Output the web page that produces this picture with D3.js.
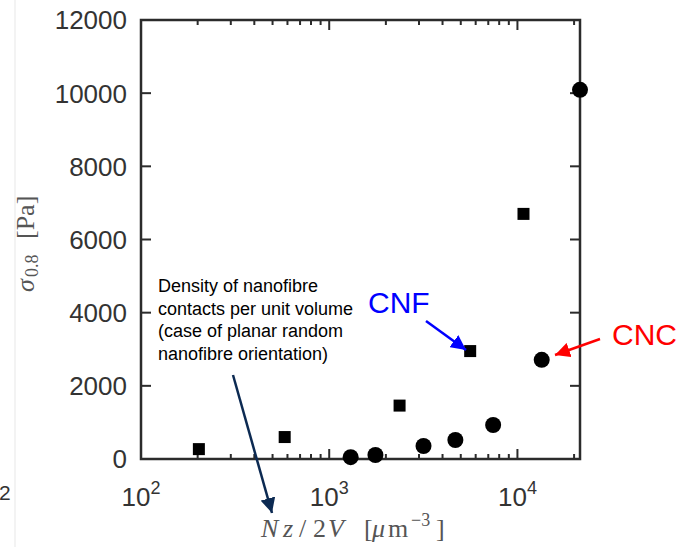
<!DOCTYPE html>
<html>
<head>
<meta charset="utf-8">
<script src="https://cdn.jsdelivr.net/npm/d3@7"></script>
<style>
  html, body { margin: 0; padding: 0; background: #fff; }
  svg { display: block; }
</style>
</head>
<body>
<svg id="chart" width="683" height="547"></svg>
<script>
// Contact density Nz/2V [µm^-3] and yield stress sigma_0.8 [Pa]
const cnfX = [203, 580, 2365, 5610, 10770];
const cnfY = [270, 600, 1460, 2950, 6700];
const cncX = [1300, 1760, 3170, 4680, 7430, 13460, 21500];
const cncY = [50, 110, 355, 520, 930, 2710, 10090];

const yTicks = [0, 2000, 4000, 6000, 8000, 10000, 12000];
const xMajorTicks = [100, 1000, 10000];
const xMajorExp = ["2", "3", "4"];

const annotationLines = [
  "Density of nanofibre",
  "contacts per unit volume",
  "(case of planar random",
  "nanofibre orientation)"
];

(function draw() {
const svg = d3.select("#chart");
const W = 683, H = 547;
const pLeft = 141, pRight = 580, pTop = 20, pBottom = 459;

const x = d3.scaleLog().domain([100, 21500]).range([pLeft, pRight]);
const y = d3.scaleLinear().domain([0, 12000]).range([pBottom, pTop]);

const axisColor = "#2b2b2b";
const sans = "'Liberation Sans', Arial, sans-serif";
const serif = "'Liberation Serif', 'DejaVu Serif', serif";
const titleColor = "#555";

// faint margin rule on the far left
svg.append("line").attr("x1", 15).attr("x2", 15).attr("y1", 0).attr("y2", H)
  .attr("stroke", "#efefef").attr("stroke-width", 1.5);
// superscript left over from the neighbouring panel
svg.append("text").attr("x", -1).attr("y", 500).attr("font-family", sans)
  .attr("font-size", 21).attr("fill", "#333").text("2");

// minor / major ticks on x (log), both bottom and top, pointing inward
const allX = x.ticks().filter(v => v >= 100 && v <= 21500);
function xTickGroup(yPos, dir) {
  svg.append("g").selectAll("line").data(allX).join("line")
    .attr("x1", d => x(d)).attr("x2", d => x(d))
    .attr("y1", yPos)
    .attr("y2", d => yPos + dir * (xMajorTicks.includes(d) ? 10 : 5))
    .attr("stroke", axisColor).attr("stroke-width", 2);
}
xTickGroup(pBottom, -1);
xTickGroup(pTop, 1);

// y ticks, left and right, inward
function yTickGroup(xPos, dir) {
  svg.append("g").selectAll("line").data(yTicks).join("line")
    .attr("x1", xPos).attr("x2", xPos + dir * 10)
    .attr("y1", d => y(d)).attr("y2", d => y(d))
    .attr("stroke", axisColor).attr("stroke-width", 2);
}
yTickGroup(pLeft, 1);
yTickGroup(pRight, -1);

// box
svg.append("rect").attr("x", pLeft).attr("y", pTop)
  .attr("width", pRight - pLeft).attr("height", pBottom - pTop)
  .attr("fill", "none").attr("stroke", axisColor).attr("stroke-width", 2.5);

// y tick labels
svg.append("g").selectAll("text").data(yTicks).join("text")
  .attr("x", pLeft - 14).attr("y", d => y(d)).attr("dy", "0.36em")
  .attr("text-anchor", "end").attr("font-family", sans).attr("font-size", 26)
  .attr("fill", "#333").text(d => d);

// x tick labels 10^n
const xl = svg.append("g").selectAll("text").data(xMajorTicks).join("text")
  .attr("x", d => x(d)).attr("y", 506)
  .attr("text-anchor", "middle").attr("font-family", sans).attr("font-size", 26)
  .attr("fill", "#333");
xl.append("tspan").text("10");
xl.append("tspan").attr("dy", -12).attr("font-size", 18).text((d, i) => xMajorExp[i]);

// x axis title, typeset piece by piece with math-style spacing
const xt = svg.append("text").attr("y", 537).attr("font-family", serif)
  .attr("font-size", 26).attr("fill", titleColor);
[
  { t: "N", x: 261, it: true },
  { t: "z", x: 283, it: true },
  { t: "/", x: 299 },
  { t: "2", x: 313 },
  { t: "V", x: 328, it: true },
  { t: "[", x: 364 },
  { t: "\u03bc", x: 372, it: true },
  { t: "m", x: 388 },
  { t: "\u22123", x: 411, sup: true },
  { t: "]", x: 436 }
].forEach(p => {
  const s = xt.append("tspan").attr("x", p.x).attr("y", p.sup ? 526 : 537).text(p.t);
  if (p.it) s.attr("font-style", "italic");
  if (p.sup) s.attr("font-size", 18);
});

// y axis title, rotated, reading bottom to top
const yt = svg.append("text").attr("transform", "translate(34,292) rotate(-90)")
  .attr("font-family", serif).attr("font-size", 26).attr("fill", titleColor);
yt.append("tspan").attr("x", 0).attr("y", 0).attr("font-style", "italic").text("\u03c3");
yt.append("tspan").attr("x", 15).attr("y", 4).attr("font-size", 18).text("0.8");
yt.append("tspan").attr("x", 53).attr("y", 0).text("[Pa]");

// data markers
svg.append("g").selectAll("rect").data(cnfX).join("rect")
  .attr("x", d => x(d) - 6).attr("y", (d, i) => y(cnfY[i]) - 6)
  .attr("width", 12).attr("height", 12).attr("fill", "#000");
svg.append("g").selectAll("circle").data(cncX).join("circle")
  .attr("cx", d => x(d)).attr("cy", (d, i) => y(cncY[i])).attr("r", 8)
  .attr("fill", "#000");

// annotations
const defs = svg.append("defs");
function marker(id, color) {
  defs.append("marker").attr("id", id).attr("viewBox", "0 0 10 10")
    .attr("refX", 10).attr("refY", 5).attr("markerWidth", 6).attr("markerHeight", 6)
    .attr("markerUnits", "strokeWidth").attr("orient", "auto")
    .append("path").attr("d", "M0,0 L10,5 L0,10 Z").attr("fill", color);
}
marker("navyHead", "#0c2a52");
marker("blueHead", "#0000ff");
marker("redHead", "#ff0000");

const note = svg.append("text").attr("font-family", sans).attr("font-size", 18)
  .attr("fill", "#000");
annotationLines.forEach((t, i) => {
  note.append("tspan").attr("x", 158).attr("y", 292 + i * 22.7).text(t);
});

svg.append("line").attr("x1", 233).attr("y1", 375).attr("x2", 272).attr("y2", 513)
  .attr("stroke", "#0c2a52").attr("stroke-width", 2.5).attr("marker-end", "url(#navyHead)");

svg.append("text").attr("x", 368).attr("y", 313).attr("font-family", sans)
  .attr("font-size", 30).attr("fill", "#0000ff").text("CNF");
svg.append("line").attr("x1", 426).attr("y1", 321).attr("x2", 466).attr("y2", 350)
  .attr("stroke", "#0000ff").attr("stroke-width", 2.5).attr("marker-end", "url(#blueHead)");

svg.append("text").attr("x", 612).attr("y", 345).attr("font-family", sans)
  .attr("font-size", 30).attr("fill", "#ff0000").text("CNC");
svg.append("line").attr("x1", 600).attr("y1", 339).attr("x2", 555).attr("y2", 355)
  .attr("stroke", "#ff0000").attr("stroke-width", 2.5).attr("marker-end", "url(#redHead)");
})();
</script>
</body>
</html>
